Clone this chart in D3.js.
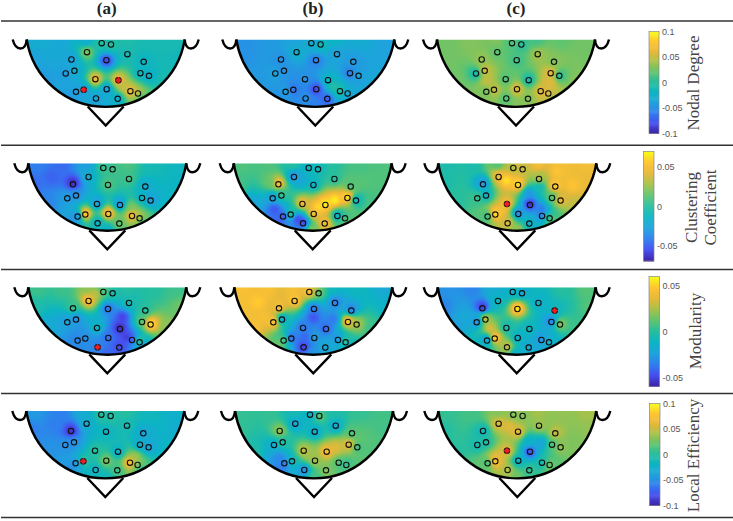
<!DOCTYPE html>
<html>
<head>
<meta charset="utf-8">
<script src="https://cdn.jsdelivr.net/npm/d3@7"></script>
<style>
  html, body {margin: 0; padding: 0; background: #fff;}
  svg {display: block;}
</style>
</head>
<body>
<svg id="chart" width="733" height="521"></svg>
<script>
// channel positions, in reference pixels from the middle of the flat top edge
const chanX = [-4, 5.3, -18.7, 21.7, -34.3, 0.7, 38, -40, -31.3, 34.7, 43.3, -10.3, 12.7, -29.7, -22, 1, 24.7, 32.3, -9.7, 12];
const chanY = [3.7, 5, 12.7, 14.7, 20, 20.7, 22.3, 34, 31.3, 33.7, 36.3, 39.7, 40.7, 52.3, 50.3, 49.7, 51.7, 54, 59, 59.3];
// extra sample spots along the head edge
const rimX = [-70, -45, -20, 0, 20, 45, 70, -75, -60, -35, 0, 35, 60, 75];
const rimY = [1, 1, 1, 1, 1, 1, 1, 20, 40, 58, 66, 58, 40, 20];

// values x 100: 20 channels, then 14 rim spots
const nodalA = [0, 0, 3, -1, -4, -8.5, -2, -4.5, -3, -2, -2.5, 7, 7, -4.5, -4, -4.5, 7, 5, -4, -3, -3, -3.5, -3, -1, -0.5, -1, -1, -4, -4.5, -4.5, -3.5, 1, -1, -1.5];
const nodalB = [-3, -1, -2.5, -4, -5, -6, -4.5, -4, -5, -6, -4, -5, -2, -4, -6.5, -8.5, 0, -3, -5, -7.5, -5, -4.5, -4, -3.5, -2, -3, -4, -5, -4.5, -5, -6, -4, -3.5, -4];
const nodalC = [1.5, 0, 2, 4, 3.5, 1, 3, -1, 5.5, 6.5, 0, 1.5, -1, 2.5, 5, 6, 6, 6, 1.5, 3, 2.5, 3, 3, 1.5, 1, 2, 2.5, 2.5, 2.5, 3, 3, 4, 3, 2.5];
const clusterA = [0.7, 0.8, -2, 0.7, -6.8, 1, -2, -3, -3.5, -1.5, -3, -3, -3.5, -3.5, 6.3, 5.8, 5.2, 3, -1.5, 1.5, -4.2, -4.8, -3, 0, 1, -0.8, -1.2, -4.8, -4, -3.5, -1.5, 1, -1.5, -1.5];
const clusterB = [-1.5, -1, -3.5, 0, 5.5, -1.5, 1, -3, 0.5, 6.8, -1.5, 4.8, 6.8, -5.5, 0.5, 5, -2, 0.5, -6, 5, 1, 1, 0, -1, 0, 0.8, 1, 0.8, -2.5, -5, 2, 1.5, 0.8, 1];
const clusterC = [3, 3.5, 5, 3, -3.5, 6.5, 6, 0.5, -1.5, 1, 4.5, 5, -6.9, 0.5, 6.8, -4, -4, 0.5, 4, -1.5, -0.5, -0.5, 1, 4, 5, 5, 5, -0.5, 0, 1, 2.5, 1.5, 3.5, 4.5];
const modA = [1, -0.5, 5, -0.5, 0.5, -4, 0, -2.5, -3, 1, 5.8, -1, -5.9, -3.5, -3, -4, -4.5, 1, -3.5, -5, 0.5, 0.5, 2, 0.5, 0, 0, 0.5, -0.3, -2, -3.2, -4.2, -3.2, 2, 1.5];
const modB = [5, 1, 5, -3.5, 4.5, -3.8, -3.5, 5, -2, 5, 2.5, -3.8, -4.3, 1, -4.3, -2.5, -3, 0.5, -5.3, -2, 4.5, 4.5, 4.5, 3, -1, -1, -2, 4.5, 4.5, 1.5, -2.8, -1.5, 0.5, -1.5];
const modC = [-1.5, -2, -1, -1.5, -5.5, 5.8, -1, -3, 3, -3.5, 2, -0.5, -1, -3, 5.5, -1.5, -3, -1.5, 3, -2, -3, -3.5, -2, -1, -1, 0, 1, -3.5, -2.5, -1, -1.5, -1.5, 0.5, 1];
const localA = [0, 0, -3, -1, -9.5, -2, -3.5, -5, -5, -3, -4, 0, -2.5, -5, 0.5, 3, 8, 3, -2, 1, -4.5, -6, -3, -0.5, 0, -1.5, -2.5, -6, -5, -5, -1.5, 0.5, -2, -3];
const localB = [-2.5, 2, -3.5, -3, 3.5, -3, 1.5, -3, 0, 6.5, 1, 5, 7.5, -6.5, -1, 4, 1.5, 0, -5.5, 3, 0.5, 0.5, -1, -1.5, -0.5, 0.5, 1, 0.5, -0.5, -6, 1, 2, 1.5, 1];
const localC = [3, 3, 6, 4, -1.5, 6.5, 5, -1, -0.5, 1.5, 3.5, 6, -8.5, 1, 8.5, -2.5, -1, 2.5, 4.5, 0.5, 0.5, 1, 3, 3.5, 4, 3.5, 4, -0.2, 0, 2, 2.5, 2, 3, 3.5];

// a few more readings between channels, [x, y, value x 100]
const extraNodalA = [[18, 47, 5]];
const extraNodalB = [[18, 47, 0]];
const extraNodalC = [[34, 43, 6], [-29, 41, 5]];
const extraClusterA = [[-55, 14, -5], [24, 44, 2]];
const extraClusterB = [[22, 37, 6.8], [5, 44, 6.3], [-38, 46, -5.5], [-12, 17, -2.5], [-42, 20, 1.5], [-15, 56, -6]];
const extraClusterC = [[-11, 17, 6.5], [40, 8, 5.5], [55, 22, 5.5], [24, 46, -4.5], [-15, 47, 5], [22, 24, -1], [12, 30, -3.5]];
const extraModA = [[15, 30, -5.2], [20, 50, -5.5], [-12, 7, 3], [-28, 45, -3]];
const extraModB = [[0, 30, -4.8], [-8, 50, -4.3], [-55, 15, 5], [-50, 30, 4.5], [20, 32, -3.8]];
const extraModC = [[-27, 41, 3.5], [-15, 5, -1.5]];
const extraLocalA = [[-50, 14, -6], [30, 46, 4]];
const extraLocalB = [[22, 37, 6], [-35, 47, -5.5], [-5, 44, 4]];
const extraLocalC = [[-8, 15, 6], [-20, 47, 6], [24, 32, -4], [12, 30, -2.5]];

const colLabels = ['(a)', '(b)', '(c)'];
const colLabelX = [106.7, 313, 516];
const ruleY = [21, 145.3, 269.5, 393.5, 517.5];

const rows = [
  {values: [nodalA, nodalB, nodalC], extra: [extraNodalA, extraNodalB, extraNodalC], top: 39.5, cx: [105.7, 315.3, 516], dy: 0, lim: 0.1, ticks: [-0.1, -0.05, 0, 0.05, 0.1],
   bar: [649, 659, 31.5, 133.5], title: ['Nodal Degree'], titleX: [695], titleY: 83},
  {values: [clusterA, clusterB, clusterC], extra: [extraClusterA, extraClusterB, extraClusterC], top: 163.3, cx: [107.3, 312.7, 517.3], dy: 1, lim: 0.0696, ticks: [-0.05, 0, 0.05],
   bar: [643.5, 654, 151.5, 261], title: ['Clustering', 'Coefficient'], titleX: [693, 712], titleY: 207.5},
  {values: [modA, modB, modC], extra: [extraModA, extraModB, extraModC], top: 287.3, cx: [107.3, 313.3, 516.7], dy: 1, lim: 0.06, ticks: [-0.05, 0, 0.05],
   bar: [649, 659.5, 276.5, 386.5], title: ['Modularity'], titleX: [697], titleY: 331},
  {values: [localA, localB, localC], extra: [extraLocalA, extraLocalB, extraLocalC], top: 411, cx: [105.3, 314, 517.3], dy: 0, lim: 0.1, ticks: [-0.1, -0.05, 0, 0.05, 0.1],
   bar: [649.5, 660, 403.5, 505.5], title: ['Local Efficiency'], titleX: [695], titleY: 455.5}
];

// red marked channels: row, column, channel index
const redMarks = [[0, 0, 12], [0, 0, 14], [1, 2, 11], [2, 0, 18], [2, 2, 6], [3, 0, 14], [3, 2, 11]];

const parulaStops = ['#3e26a8', '#4650f0', '#2f80ee', '#1ea3dc', '#0cb4c4', '#25be9f', '#5fc46f', '#a5c24a', '#e5b83a', '#fec433', '#f9fb15'];
const parula = d3.scaleLinear().domain(d3.range(11).map(i => i / 10)).range(parulaStops).clamp(true);

const svg = d3.select('#chart');
const headR = 80, halfTop = 79;

function fieldImage(vals, extra, lim) {
  const w = 164, h = 72;
  const cv = document.createElement('canvas');
  cv.width = w; cv.height = h;
  const ctx = cv.getContext('2d');
  const img = ctx.createImageData(w, h);
  const px = chanX.concat(rimX, extra.map(d => d[0]));
  const py = chanY.concat(rimY, extra.map(d => d[1]));
  const pv = vals.concat(extra.map(d => d[2]));
  const toT = d3.scaleLinear().domain([-lim, lim]).range([0, 1]);
  for (let j = 0; j < h; j++) {
    for (let i = 0; i < w; i++) {
      const x = i - w / 2 + 0.5, y = j + 0.5;
      let sw = 0, sv = 0;
      for (let k = 0; k < px.length; k++) {
        const d2 = (x - px[k]) ** 2 + (y - py[k]) ** 2 + 10;
        const wt = 1 / Math.pow(d2, 1.5);
        sw += wt; sv += wt * pv[k];
      }
      const c = d3.rgb(parula(toT(sv / sw / 100)));
      const o = (j * w + i) * 4;
      img.data[o] = c.r; img.data[o + 1] = c.g; img.data[o + 2] = c.b; img.data[o + 3] = 255;
    }
  }
  ctx.putImageData(img, 0, 0);
  return cv.toDataURL();
}

// rules
svg.selectAll('line.rule').data(ruleY).join('line').attr('class', 'rule')
  .attr('x1', 1).attr('x2', 733).attr('y1', d => d).attr('y2', d => d)
  .attr('stroke', '#333').attr('stroke-width', 1.4);

// column headings
svg.selectAll('text.col').data(colLabels).join('text').attr('class', 'col')
  .attr('x', (d, i) => colLabelX[i]).attr('y', 13.5).attr('text-anchor', 'middle')
  .style('font-family', '"Liberation Serif"').style('font-weight', 'bold').style('font-size', '17px').attr('fill', '#222')
  .text(d => d);

const defs = svg.append('defs');
const headPath = `M${-halfTop},0 A${headR},${headR} 0 0 0 ${halfTop},0 Z`;

rows.forEach((row, r) => {
  row.values.forEach((vals, c) => {
    const cx = row.cx[c], top = row.top;
    const xs = d3.scaleLinear().domain([-80, 80]).range([cx - 80, cx + 80]);
    const ys = d3.scaleLinear().domain([0, 70]).range([top, top + 70]);
    const id = `head-${r}-${c}`;
    defs.append('clipPath').attr('id', id).append('path').attr('d', headPath)
      .attr('transform', `translate(${cx},${top})`);

    svg.append('image').attr('href', fieldImage(vals, row.extra[c], row.lim))
      .attr('x', cx - 82).attr('y', top).attr('width', 164).attr('height', 72)
      .attr('clip-path', `url(#${id})`);

    const g = svg.append('g').attr('transform', `translate(${cx},${top})`)
      .attr('fill', 'none').attr('stroke', '#000').attr('stroke-width', 2.4);
    g.append('path').attr('d', `M${-halfTop},0 A${headR},${headR} 0 0 0 ${halfTop},0`);
    g.append('path').attr('d', 'M-18,67 L0,86 L18,67');
    g.append('path').attr('d', `M${-halfTop - 14},0 C${-halfTop - 11},12 ${-halfTop - 1},12 ${-halfTop},0`);
    g.append('path').attr('d', `M${halfTop},0 C${halfTop + 1},12 ${halfTop + 11},12 ${halfTop + 14},0`);

    const marks = chanX.map((x, i) => ({x, y: chanY[i] + row.dy, i}));
    svg.append('g').selectAll('circle').data(marks).join('circle')
      .attr('cx', d => xs(d.x)).attr('cy', d => ys(d.y)).attr('r', 2.7)
      .attr('fill', 'none').attr('stroke', '#111').attr('stroke-width', 1.1);

    redMarks.filter(m => m[0] === r && m[1] === c).forEach(m => {
      const mx = xs(chanX[m[2]]), my = ys(chanY[m[2]] + row.dy);
      svg.append('circle').attr('cx', mx).attr('cy', my).attr('r', 2.7).attr('fill', '#f01c24').attr('stroke', '#222').attr('stroke-width', 0.9);
      svg.append('path').attr('d', `M${mx - 3.2},${my} H${mx + 3.2} M${mx},${my - 3.2} V${my + 3.2}`).attr('stroke', '#f01c24').attr('stroke-width', 1);
    });
  });

  // colour bar
  const [x0, x1, y0, y1] = row.bar;
  const barY = d3.scaleLinear().domain([-row.lim, row.lim]).range([y1, y0]);
  const steps = d3.range(0, 110);
  svg.append('g').selectAll('rect').data(steps).join('rect')
    .attr('x', x0).attr('width', x1 - x0)
    .attr('y', d => y0 + (y1 - y0) * d / 110).attr('height', (y1 - y0) / 110 + 0.5)
    .attr('fill', d => parula(1 - d / 109));
  svg.append('rect').attr('x', x0).attr('y', y0).attr('width', x1 - x0).attr('height', y1 - y0)
    .attr('fill', 'none').attr('stroke', '#888').attr('stroke-width', 0.7);

  const axis = d3.axisRight(barY).tickValues(row.ticks).tickSize(0).tickPadding(3).tickFormat(d => String(d));
  const ag = svg.append('g').attr('transform', `translate(${x1},0)`).call(axis);
  ag.select('.domain').remove();
  ag.selectAll('text').style('font-family', '"Liberation Sans"').style('font-size', '9px').attr('fill', '#555');

  row.title.forEach((t, i) => {
    svg.append('text').attr('transform', `translate(${row.titleX[i]},${row.titleY}) rotate(-90)`)
      .attr('text-anchor', 'middle').attr('dominant-baseline', 'middle')
      .style('font-family', '"Liberation Serif"').style('font-size', '17px').attr('fill', '#444')
      .text(t);
  });
});
</script>
</body>
</html>
